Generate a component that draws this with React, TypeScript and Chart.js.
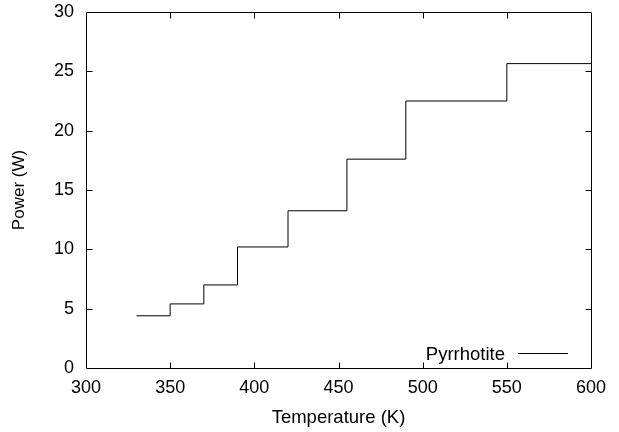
import React, { useEffect, useRef } from "react";
import { Chart, registerables } from "chart.js";

Chart.register(...registerables);

const temperatures = [330, 350, 370, 390, 420, 455, 490, 550, 600];
const power = [4.4, 5.4, 7.0, 10.2, 13.25, 17.6, 22.5, 25.65, 25.65];
const seriesLabel = "Pyrrhotite";
const xTitle = "Temperature (K)";
const yTitle = "Power (W)";

const FONT = "'Liberation Sans', Arial, Helvetica, sans-serif";

const frameTicks = {
  id: "frameTicks",
  afterDatasetsDraw(chart: any) {
    const { ctx, chartArea } = chart;
    const { left, right, top, bottom } = chartArea;
    const xs = chart.scales.x;
    const ys = chart.scales.y;
    ctx.save();
    ctx.strokeStyle = "#000";
    ctx.lineWidth = 1;
    const L = Math.round(left) + 0.5;
    const R = Math.round(right) + 0.5;
    const T = Math.round(top) + 0.5;
    const B = Math.round(bottom) + 0.5;
    ctx.beginPath();
    ctx.rect(L, T, R - L, B - T);
    ctx.stroke();
    const len = 6;
    ctx.beginPath();
    xs.ticks.forEach((t: any) => {
      const px = Math.round(xs.getPixelForValue(t.value)) + 0.5;
      if (px <= L + 1 || px >= R - 1) return;
      ctx.moveTo(px, B);
      ctx.lineTo(px, B - len);
      ctx.moveTo(px, T);
      ctx.lineTo(px, T + len);
    });
    ys.ticks.forEach((t: any) => {
      const py = Math.round(ys.getPixelForValue(t.value)) + 0.5;
      if (py <= T + 1 || py >= B - 1) return;
      ctx.moveTo(L, py);
      ctx.lineTo(L + len, py);
      ctx.moveTo(R, py);
      ctx.lineTo(R - len, py);
    });
    ctx.stroke();

    // gnuplot-style legend: text then line sample, bottom-right inside plot
    const ly = Math.round(bottom - 15) + 0.5;
    const lineEnd = right - 23;
    const lineStart = lineEnd - 50;
    ctx.font = `18.5px ${FONT}`;
    ctx.fillStyle = "#000";
    ctx.textAlign = "right";
    ctx.textBaseline = "middle";
    ctx.fillText(seriesLabel, lineStart - 13, ly + 1);
    ctx.beginPath();
    ctx.moveTo(lineStart, ly);
    ctx.lineTo(lineEnd, ly);
    ctx.stroke();
    ctx.restore();
  },
};

export default function App() {
  const ref = useRef<HTMLCanvasElement | null>(null);
  useEffect(() => {
    if (!ref.current) return;
    const chart = new Chart(ref.current, {
      type: "line",
      data: {
        datasets: [
          {
            label: seriesLabel,
            data: temperatures.map((t, i) => ({ x: t, y: power[i] })),
            stepped: "before",
            borderColor: "#000",
            borderWidth: 1,
            pointRadius: 0,
            fill: false,
          },
        ],
      },
      options: {
        animation: false,
        responsive: false,
        maintainAspectRatio: false,
        layout: { padding: { top: 12, right: 28, left: 0, bottom: 0 } },
        plugins: {
          legend: { display: false },
          tooltip: { enabled: false },
        },
        scales: {
          x: {
            type: "linear",
            min: 300,
            max: 600,
            ticks: {
              stepSize: 50,
              padding: 9,
              color: "#000",
              font: { family: FONT, size: 18 },
              maxRotation: 0,
            },
            grid: { display: false, drawTicks: false },
            border: { display: false },
            title: {
              display: true,
              text: xTitle,
              color: "#000",
              font: { family: FONT, size: 18.5 },
              padding: { top: 0, bottom: 3 },
            },
            afterFit(scale: any) {
              scale.height = 64;
              scale.paddingLeft = 0;
              scale.paddingRight = 0;
            },
          },
          y: {
            type: "linear",
            min: 0,
            max: 30,
            ticks: {
              stepSize: 5,
              padding: 12,
              color: "#000",
              font: { family: FONT, size: 18 },
            },
            grid: { display: false, drawTicks: false },
            border: { display: false },
            title: {
              display: true,
              text: yTitle,
              color: "#000",
              font: { family: FONT, size: 17 },
              padding: { top: 9.5, bottom: 0 },
            },
            afterFit(scale: any) {
              scale.width = 86;
              scale.paddingTop = 0;
              scale.paddingBottom = 0;
            },
          },
        },
      },
      plugins: [frameTicks],
    });
    return () => chart.destroy();
  }, []);
  return (
    <div style={{ position: "absolute", left: 0, top: 0, width: 619, height: 432, background: "#fff" }}>
      <canvas ref={ref} width={619} height={432} style={{ display: "block", width: 619, height: 432 }} />
    </div>
  );
}
